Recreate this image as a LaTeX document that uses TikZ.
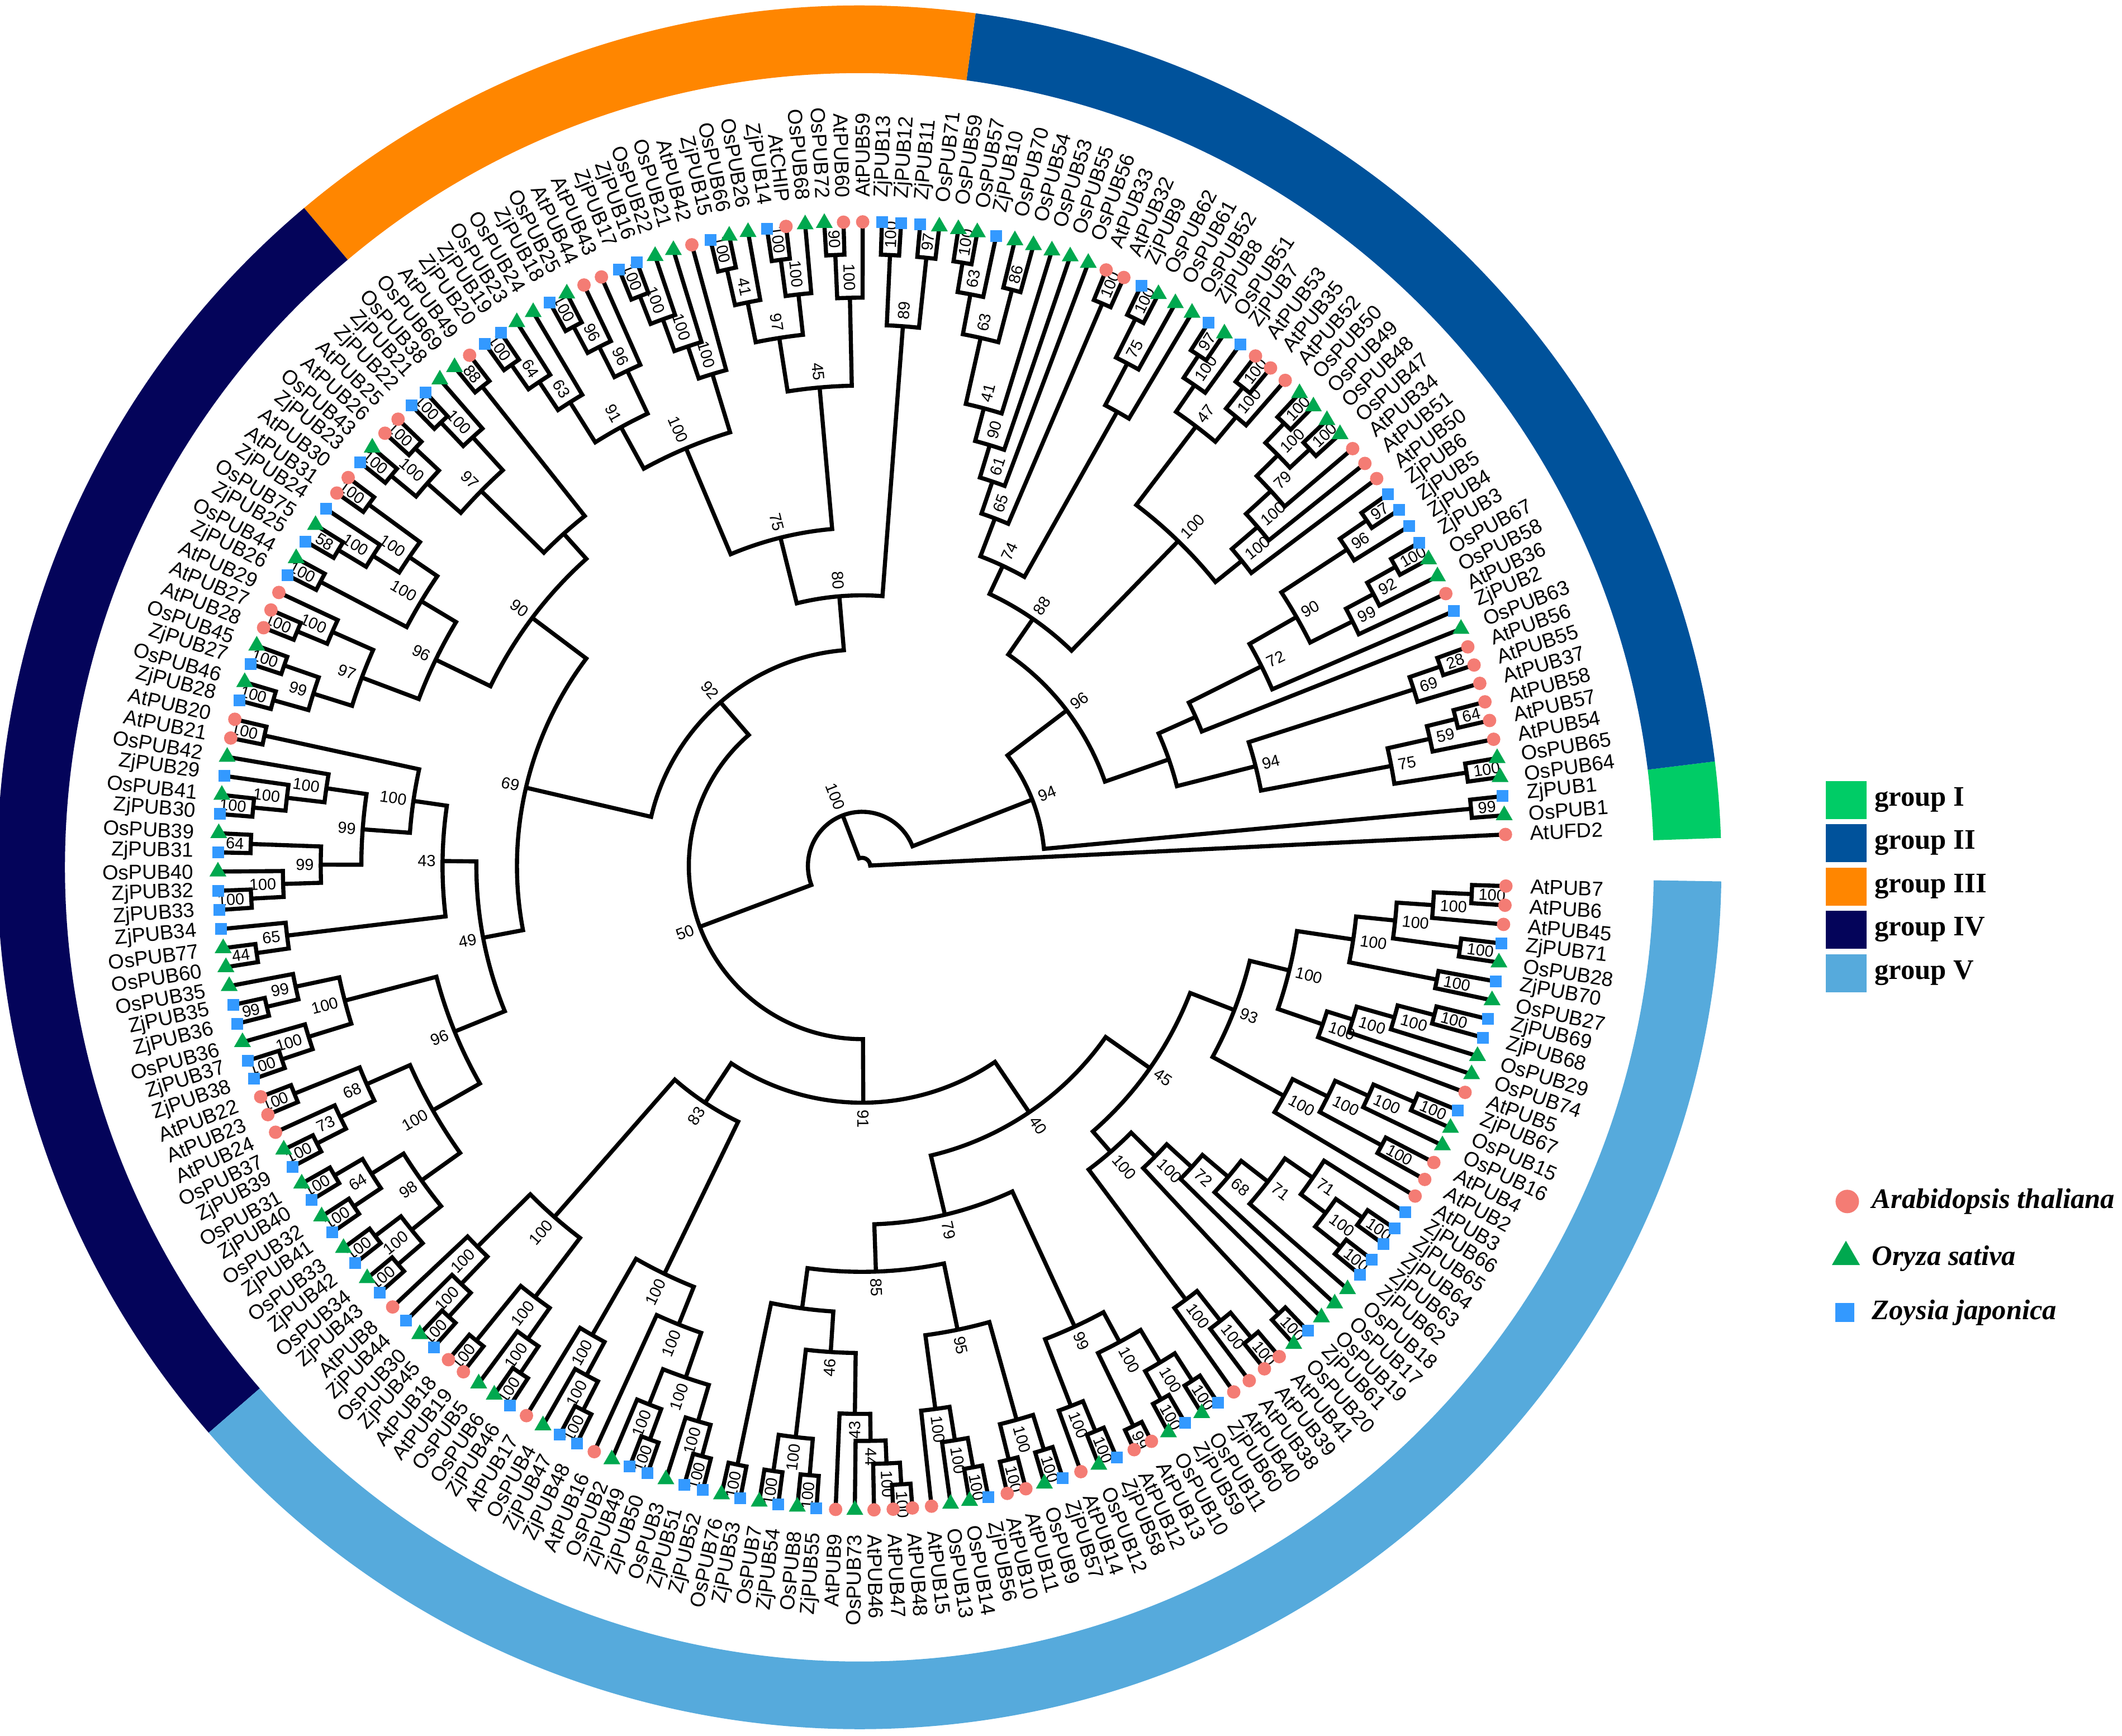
\documentclass[tikz,border=0pt]{standalone}
\usepackage{fontspec}
\setmainfont{Liberation Sans}
\newfontfamily\legfont{Liberation Serif}
\usetikzlibrary{shapes.geometric}
\definecolor{cAt}{HTML}{F47C74}
\definecolor{cOs}{HTML}{00A84F}
\definecolor{cZj}{HTML}{3399FF}
\definecolor{gI}{HTML}{00CC66}
\definecolor{gII}{HTML}{00529B}
\definecolor{gIII}{HTML}{FF8600}
\definecolor{gIV}{HTML}{04045A}
\definecolor{gV}{HTML}{56AADC}
\def\Astart{2.8}
\def\Astep{1.7087}
\def\Rleaf{476}
\def\Rlab{494}
\def\U{0.68901}
\def\Rin{587}
\def\Rout{637}
\newcommand\bsl[4]{%
  \pgfmathtruncatemacro\lft{and(#2>90,#2<270)}%
  \pgfmathsetmacro\rrb{#3+4}%
  \ifnum\lft=1
    \node[bs,anchor=east,rotate=#2+180] (#1) at (#2:\rrb) {#4};
  \else
    \node[bs,anchor=west,rotate=#2] (#1) at (#2:\rrb) {#4};
  \fi}
\newcommand\cl[5]{%
  \pgfmathsetmacro\tA{\csname a@#3\endcsname}%
  \pgfmathsetmacro\tB{\csname a@#4\endcsname}%
  \edef\rA{\csname r@#3\endcsname}%
  \edef\rB{\csname r@#4\endcsname}%
  \pgfmathsetmacro\tM{(\tA+\tB)/2}%
  \pgfmathsetmacro\rp{#2*\U}%
  \expandafter\xdef\csname a@#1\endcsname{\tM}%
  \expandafter\xdef\csname r@#1\endcsname{#2}%
  \draw[br] (\tA:\rA) -- (\tA:#2) arc[start angle=\tA, end angle=\tB, radius=\rp pt] -- (\tB:\rB);
  \coordinate (#1) at (\tM:#2);
  \ifx\relax#5\relax\else\bsl{B#1}{\tM}{#2}{#5}\fi}
\newcommand\ring[4]{%
  \pgfmathsetmacro\ri{\Rin*\U}\pgfmathsetmacro\ro{\Rout*\U}%
  \fill[#2] (#3:\Rin) arc[start angle=#3, end angle=#4, radius=\ri pt] -- (#4:\Rout) arc[start angle=#4, end angle=#3, radius=\ro pt] -- cycle;
  \coordinate (#1) at ({(#3+#4)/2}:\Rout);}
\def\leafdata{1/AtUFD2/c,2/OsPUB1/t,3/ZjPUB1/s,4/OsPUB64/t,5/OsPUB65/t,6/AtPUB54/c,7/AtPUB57/c,8/AtPUB58/c,9/AtPUB37/c,10/AtPUB55/c,11/AtPUB56/c,12/OsPUB63/t,13/ZjPUB2/s,14/AtPUB36/c,15/OsPUB58/t,16/OsPUB67/t,17/ZjPUB3/s,18/ZjPUB4/s,19/ZjPUB5/s,20/ZjPUB6/s,21/AtPUB50/c,22/AtPUB51/c,23/AtPUB34/c,24/OsPUB47/t,25/OsPUB48/t,26/OsPUB49/t,27/OsPUB50/t,28/AtPUB52/c,29/AtPUB35/c,30/AtPUB53/c,31/ZjPUB7/s,32/OsPUB51/t,33/ZjPUB8/s,34/OsPUB52/t,35/OsPUB61/t,36/OsPUB62/t,37/ZjPUB9/s,38/AtPUB32/c,39/AtPUB33/c,40/OsPUB56/t,41/OsPUB55/t,42/OsPUB53/t,43/OsPUB54/t,44/OsPUB70/t,45/ZjPUB10/s,46/OsPUB57/t,47/OsPUB59/t,48/OsPUB71/t,49/ZjPUB11/s,50/ZjPUB12/s,51/ZjPUB13/s,52/AtPUB59/c,53/AtPUB60/c,54/OsPUB72/t,55/OsPUB68/t,56/AtCHIP/c,57/ZjPUB14/s,58/OsPUB26/t,59/OsPUB66/t,60/ZjPUB15/s,61/AtPUB42/c,62/OsPUB21/t,63/OsPUB22/t,64/ZjPUB16/s,65/ZjPUB17/s,66/AtPUB43/c,67/AtPUB44/c,68/OsPUB25/t,69/ZjPUB18/s,70/OsPUB24/t,71/OsPUB23/t,72/ZjPUB19/s,73/ZjPUB20/s,74/AtPUB49/c,75/OsPUB69/t,76/OsPUB38/t,77/ZjPUB21/s,78/ZjPUB22/s,79/AtPUB25/c,80/AtPUB26/c,81/OsPUB43/t,82/ZjPUB23/s,83/AtPUB30/c,84/AtPUB31/c,85/ZjPUB24/s,86/OsPUB75/t,87/ZjPUB25/s,88/OsPUB44/t,89/ZjPUB26/s,90/AtPUB29/c,91/AtPUB27/c,92/AtPUB28/c,93/OsPUB45/t,94/ZjPUB27/s,95/OsPUB46/t,96/ZjPUB28/s,97/AtPUB20/c,98/AtPUB21/c,99/OsPUB42/t,100/ZjPUB29/s,101/OsPUB41/t,102/ZjPUB30/s,103/OsPUB39/t,104/ZjPUB31/s,105/OsPUB40/t,106/ZjPUB32/s,107/ZjPUB33/s,108/ZjPUB34/s,109/OsPUB77/t,110/OsPUB60/t,111/OsPUB35/t,112/ZjPUB35/s,113/ZjPUB36/s,114/OsPUB36/t,115/ZjPUB37/s,116/ZjPUB38/s,117/AtPUB22/c,118/AtPUB23/c,119/AtPUB24/c,120/OsPUB37/t,121/ZjPUB39/s,122/OsPUB31/t,123/ZjPUB40/s,124/OsPUB32/t,125/ZjPUB41/s,126/OsPUB33/t,127/ZjPUB42/s,128/OsPUB34/t,129/ZjPUB43/s,130/AtPUB8/c,131/ZjPUB44/s,132/OsPUB30/t,133/ZjPUB45/s,134/AtPUB18/c,135/AtPUB19/c,136/OsPUB5/t,137/OsPUB6/t,138/ZjPUB46/s,139/AtPUB17/c,140/OsPUB4/t,141/ZjPUB47/s,142/ZjPUB48/s,143/AtPUB16/c,144/OsPUB2/t,145/ZjPUB49/s,146/ZjPUB50/s,147/OsPUB3/t,148/ZjPUB51/s,149/ZjPUB52/s,150/OsPUB76/t,151/ZjPUB53/s,152/OsPUB7/t,153/ZjPUB54/s,154/OsPUB8/t,155/ZjPUB55/s,156/AtPUB9/c,157/OsPUB73/t,158/AtPUB46/c,159/AtPUB47/c,160/AtPUB48/c,161/AtPUB15/c,162/OsPUB13/t,163/OsPUB14/t,164/ZjPUB56/s,165/AtPUB10/c,166/AtPUB11/c,167/OsPUB9/t,168/ZjPUB57/s,169/AtPUB14/c,170/OsPUB12/t,171/ZjPUB58/s,172/AtPUB12/c,173/AtPUB13/c,174/OsPUB10/t,175/ZjPUB59/s,176/OsPUB11/t,177/ZjPUB60/s,178/AtPUB40/c,179/AtPUB38/c,180/AtPUB39/c,181/AtPUB41/c,182/OsPUB20/t,183/ZjPUB61/s,184/OsPUB19/t,185/OsPUB17/t,186/OsPUB18/t,187/ZjPUB62/s,188/ZjPUB63/s,189/ZjPUB64/s,190/ZjPUB65/s,191/ZjPUB66/s,192/AtPUB3/c,193/AtPUB2/c,194/AtPUB4/c,195/OsPUB16/t,196/OsPUB15/t,197/ZjPUB67/s,198/AtPUB5/c,199/OsPUB74/t,200/OsPUB29/t,201/ZjPUB68/s,202/ZjPUB69/s,203/OsPUB27/t,204/ZjPUB70/s,205/OsPUB28/t,206/ZjPUB71/s,207/AtPUB45/c,208/AtPUB6/c,209/AtPUB7/c}
\begin{document}
\begin{tikzpicture}[x=0.024216cm,y=0.024216cm,
  br/.style={line width=2.1pt, line join=miter},
  bs/.style={font=\fontsize{8.2}{9}\selectfont, inner sep=0.6pt},
  lbl/.style={font=\fontsize{10.4}{11}\selectfont, inner sep=0pt},
  mkc/.style={circle, fill=cAt, inner sep=0pt, minimum size=0.24cm},
  mkt/.style={regular polygon, regular polygon sides=3, fill=cOs, inner sep=0pt, minimum size=0.35cm},
  mks/.style={rectangle, fill=cZj, inner sep=0pt, minimum size=0.21cm},
  sw/.style={rectangle, inner sep=0pt, minimum width=0.73cm, minimum height=0.68cm},
  lg/.style={font=\legfont\fontsize{14.4}{16}\selectfont\bfseries, anchor=west, inner sep=0pt}]
\useasboundingbox (-637,-643) rectangle (931,640);
% ---- leaf angles
\foreach \i/\nm/\tp in \leafdata {%
  \pgfmathsetmacro\ang{\Astart+(\i-1)*\Astep}%
  \expandafter\xdef\csname a@L\i\endcsname{\ang}%
  \expandafter\xdef\csname r@L\i\endcsname{\Rleaf}}
% ---- group rings
\begin{scope}[shift={(-2,-1)}]
\ring{RI}{gI}{1.95}{7.06}
\ring{RII}{gII}{7.06}{82.25}
\ring{RIII}{gIII}{82.25}{130.1}
\ring{RIV}{gIV}{130.1}{221.0}
\ring{RV}{gV}{221.0}{359.06}
\end{scope}
% ---- group I / II
\cl{g1}{452}{L2}{L3}{99}
\cl{a1}{452}{L4}{L5}{100}
\cl{a2}{452}{L7}{L8}{64}
\cl{a3}{430}{L6}{a2}{59}
\cl{a4}{398}{a1}{a3}{75}
\cl{a5}{452}{L10}{L11}{28}
\cl{a6}{428}{L9}{a5}{69}
\cl{a7}{300}{a4}{a6}{94}
\cl{a8}{452}{L16}{L17}{100}
\cl{a9}{428}{L15}{a8}{92}
\cl{a10}{405}{L14}{a9}{99}
\cl{a11}{452}{L19}{L20}{97}
\cl{a12}{428}{L18}{a11}{96}
\cl{a13}{370}{a10}{a12}{90}
\cl{a14}{330}{L13}{a13}{72}
\cl{a15}{270}{L12}{a14}{}
\cl{a16}{240}{a7}{a15}{}
\cl{b1}{452}{L26}{L27}{100}
\cl{b2}{452}{L24}{L25}{100}
\cl{b3}{432}{b2}{b1}{100}
\cl{b4}{410}{L23}{b3}{79}
\cl{b5}{385}{L22}{b4}{100}
\cl{b6}{360}{L21}{b5}{100}
\cl{b7}{452}{L29}{L30}{100}
\cl{b8}{432}{L28}{b7}{100}
\cl{b9}{452}{L32}{L33}{97}
\cl{b10}{432}{L31}{b9}{100}
\cl{b11}{408}{b8}{b10}{47}
\cl{b12}{335}{b6}{b11}{100}
\cl{c1}{452}{L36}{L37}{100}
\cl{c2}{420}{L35}{c1}{75}
\cl{c3}{385}{L34}{c2}{}
\cl{c4}{452}{L38}{L39}{100}
\cl{d1}{452}{L46}{L47}{100}
\cl{d2}{430}{L45}{d1}{63}
\cl{d3}{440}{L43}{L44}{86}
\cl{d4}{400}{d3}{d2}{63}
\cl{d5}{350}{L42}{d4}{41}
\cl{d6}{325}{L41}{d5}{90}
\cl{d7}{300}{L40}{d6}{61}
\cl{d8}{275}{c4}{d7}{65}
\cl{d9}{245}{c3}{d8}{74}
\cl{d10}{222}{b12}{d9}{88}
\cl{d11}{190}{a16}{d10}{96}
\cl{G12}{135}{g1}{d11}{94}
% ---- group III
\cl{f1}{452}{L48}{L49}{97}
\cl{f2}{452}{L50}{L51}{100}
\cl{f3}{400}{f1}{f2}{89}
\cl{f4}{452}{L53}{L54}{90}
\cl{f5}{420}{L52}{f4}{100}
\cl{f6}{452}{L56}{L57}{100}
\cl{f7}{425}{L55}{f6}{100}
\cl{f9}{452}{L59}{L60}{100}
\cl{f10}{425}{L58}{f9}{41}
\cl{f11}{395}{f7}{f10}{97}
\cl{f12}{355}{f5}{f11}{45}
\cl{f13}{452}{L64}{L65}{100}
\cl{f14}{430}{L63}{f13}{100}
\cl{f15}{405}{L62}{f14}{100}
\cl{f16}{380}{L61}{f15}{100}
\cl{f17}{452}{L68}{L69}{100}
\cl{f18}{430}{L67}{f17}{96}
\cl{f19}{405}{L66}{f18}{96}
\cl{f20}{452}{L72}{L73}{100}
\cl{f21}{430}{L71}{f20}{64}
\cl{f22}{405}{L70}{f21}{63}
\cl{f23}{370}{f19}{f22}{91}
\cl{f24}{335}{f16}{f23}{100}
\cl{f25}{250}{f12}{f24}{75}
\cl{f26}{200}{f3}{f25}{80}
% ---- group IV
\cl{g88}{452}{L74}{L75}{88}
\cl{h1}{452}{L77}{L78}{100}
\cl{h2}{428}{L76}{h1}{100}
\cl{h3}{452}{L79}{L80}{100}
\cl{h4}{452}{L81}{L82}{100}
\cl{h5}{428}{h3}{h4}{100}
\cl{h6}{395}{h2}{h5}{97}
\cl{h7}{452}{L83}{L84}{100}
\cl{h8}{452}{L86}{L87}{58}
\cl{h9}{428}{L85}{h8}{100}
\cl{h10}{405}{h7}{h9}{100}
\cl{h11}{452}{L88}{L89}{100}
\cl{h12}{380}{h10}{h11}{100}
\cl{h13}{452}{L91}{L92}{100}
\cl{h14}{428}{L90}{h13}{100}
\cl{h15}{452}{L93}{L94}{100}
\cl{h16}{452}{L95}{L96}{100}
\cl{h17}{425}{h15}{h16}{99}
\cl{h18}{395}{h14}{h17}{97}
\cl{h19}{350}{h12}{h18}{96}
\cl{h6b}{330}{g88}{h6}{}
\cl{h19b}{305}{h6b}{h19}{90}
\cl{h20}{452}{L97}{L98}{100}
\cl{h21}{452}{L101}{L102}{100}
\cl{h22}{428}{L100}{h21}{100}
\cl{h23}{400}{L99}{h22}{100}
\cl{h24}{452}{L103}{L104}{64}
\cl{h25}{452}{L106}{L107}{100}
\cl{h26}{428}{L105}{h25}{100}
\cl{h27}{400}{h24}{h26}{99}
\cl{h28}{370}{h23}{h27}{99}
\cl{h29}{335}{h20}{h28}{100}
\cl{h30}{452}{L109}{L110}{44}
\cl{h31}{428}{L108}{h30}{65}
\cl{h37}{310}{h29}{h31}{43}
\cl{h32}{452}{L112}{L113}{99}
\cl{h33}{428}{L111}{h32}{99}
\cl{h34}{452}{L115}{L116}{100}
\cl{h35}{428}{L114}{h34}{100}
\cl{h36}{395}{h33}{h35}{100}
\cl{h39}{452}{L117}{L118}{100}
\cl{h40}{452}{L120}{L121}{100}
\cl{h41}{428}{L119}{h40}{73}
\cl{h42}{400}{h39}{h41}{68}
\cl{h43}{452}{L122}{L123}{100}
\cl{h44}{452}{L124}{L125}{100}
\cl{h45}{428}{h43}{h44}{64}
\cl{h46}{452}{L126}{L127}{100}
\cl{h47}{452}{L128}{L129}{100}
\cl{h48}{428}{h46}{h47}{100}
\cl{h49}{400}{h45}{h48}{98}
\cl{h50}{365}{h42}{h49}{100}
\cl{h51}{325}{h36}{h50}{96}
\cl{h52}{285}{h37}{h51}{49}
\cl{h53}{255}{h19b}{h52}{69}
\cl{N92}{160}{f26}{h53}{92}
% ---- group V
\cl{k1}{452}{L132}{L133}{100}
\cl{k2}{428}{L131}{k1}{100}
\cl{k3}{400}{L130}{k2}{100}
\cl{k4}{452}{L134}{L135}{100}
\cl{k5}{452}{L137}{L138}{100}
\cl{k6}{428}{L136}{k5}{100}
\cl{k7}{400}{k4}{k6}{100}
\cl{k8}{452}{L141}{L142}{100}
\cl{k9}{428}{L140}{k8}{100}
\cl{k10}{400}{L139}{k9}{100}
\cl{k11}{452}{L145}{L146}{100}
\cl{k12}{428}{L144}{k11}{100}
\cl{k13}{452}{L148}{L149}{100}
\cl{k14}{428}{L147}{k13}{100}
\cl{k15}{400}{k12}{k14}{100}
\cl{k16}{365}{L143}{k15}{100}
\cl{k17}{452}{L150}{L151}{100}
\cl{k18}{452}{L152}{L153}{100}
\cl{k19}{452}{L154}{L155}{100}
\cl{k20}{425}{k18}{k19}{100}
\cl{k26}{458}{L159}{L160}{100}
\cl{k25}{442}{L158}{k26}{100}
\cl{k24}{425}{L157}{k25}{44}
\cl{k23}{405}{L156}{k24}{43}
\cl{k22}{360}{k20}{k23}{46}
\cl{k27}{452}{L163}{L164}{100}
\cl{k28}{430}{L162}{k27}{100}
\cl{k29}{405}{L161}{k28}{100}
\cl{k30}{452}{L165}{L166}{100}
\cl{k31}{452}{L167}{L168}{100}
\cl{k32}{425}{k30}{k31}{100}
\cl{k33}{452}{L170}{L171}{100}
\cl{k34}{428}{L169}{k33}{100}
\cl{k35}{460}{L172}{L173}{99}
\cl{k36}{452}{L174}{L175}{100}
\cl{k37}{452}{L176}{L177}{100}
\cl{k38}{428}{k36}{k37}{100}
\cl{k39}{400}{k35}{k38}{100}
\cl{k40}{375}{k34}{k39}{99}
\cl{k43}{452}{L180}{L181}{100}
\cl{k44}{428}{L179}{k43}{100}
\cl{k45}{400}{L178}{k44}{100}
\cl{k46}{452}{L182}{L183}{100}
\cl{k47}{452}{L187}{L188}{100}
\cl{k48}{452}{L189}{L190}{100}
\cl{k49}{428}{k47}{k48}{100}
\cl{k50}{405}{k49}{L191}{71}
\cl{k51}{380}{L186}{k50}{71}
\cl{k52}{355}{L185}{k51}{68}
\cl{k53}{330}{L184}{k52}{72}
\cl{k54}{305}{k46}{k53}{100}
\cl{k55}{280}{k45}{k54}{100}
\cl{k56}{436}{L193}{L194}{100}
\cl{k57}{444}{L196}{L197}{100}
\cl{k58}{411}{L195}{k57}{100}
\cl{k59}{384}{k56}{k58}{100}
\cl{k60}{355}{L192}{k59}{100}
\cl{k61}{437}{L201}{L202}{100}
\cl{k62}{409}{L200}{k61}{100}
\cl{k63}{380}{L199}{k62}{100}
\cl{k64}{360}{L198}{k63}{100}
\cl{k65}{451}{L208}{L209}{100}
\cl{k66}{423}{L207}{k65}{100}
\cl{k67}{446}{L205}{L206}{100}
\cl{k68}{396}{k67}{k66}{100}
\cl{k69}{433}{L203}{L204}{100}
\cl{k70}{367}{k69}{k68}{100}
\cl{k71}{325}{k64}{k70}{100}
\cl{k72}{295}{k60}{k71}{93}
\cl{k74}{345}{k3}{k7}{100}
\cl{k75}{335}{k10}{k16}{100}
\cl{k76}{210}{k74}{k75}{83}
\cl{k73}{330}{k17}{k22}{}
\cl{k84}{350}{k29}{k32}{95}
\cl{k85}{300}{k73}{k84}{85}
\cl{k87}{265}{k85}{k40}{79}
\cl{k80}{260}{k55}{k72}{45}
\cl{k82}{220}{k87}{k80}{40}
\cl{k77}{175}{k76}{k82}{91}
% ---- deep
\cl{P}{128}{N92}{k77}{50}
\cl{Q}{40}{G12}{P}{100}
\cl{R}{6}{L1}{Q}{}
% ---- markers and labels
\foreach \i/\nm/\tp in \leafdata {%
  \pgfmathsetmacro\ang{\Astart+(\i-1)*\Astep}%
  \node[mk\tp] (M\i) at (\ang:\Rleaf) {};
  \pgfmathtruncatemacro\lft{and(\ang>90,\ang<270)}%
  \ifnum\lft=1
    \node[lbl,anchor=east,rotate=\ang+180] (T\i) at (\ang:\Rlab) {\nm};
  \else
    \node[lbl,anchor=west,rotate=\ang] (T\i) at (\ang:\Rlab) {\nm};
  \fi}
% ---- legends
\node[sw,fill=gI,anchor=north west] (s1) at (712,63) {};
\node[sw,fill=gII,anchor=north west] (s2) at (712,31) {};
\node[sw,fill=gIII,anchor=north west] (s3) at (712,-1) {};
\node[sw,fill=gIV,anchor=north west] (s4) at (712,-33) {};
\node[sw,fill=gV,anchor=north west] (s5) at (712,-65) {};
\node[lg] (t1) at (748,49) {group I};
\node[lg] (t2) at (748,17) {group II};
\node[lg] (t3) at (748,-15) {group III};
\node[lg] (t4) at (748,-47) {group IV};
\node[lg] (t5) at (748,-79) {group V};
\node[circle,fill=cAt,inner sep=0pt,minimum size=0.42cm] (p1) at (728,-248) {};
\node[regular polygon,regular polygon sides=3,fill=cOs,inner sep=0pt,minimum size=0.58cm] (p2) at (727,-289) {};
\node[rectangle,fill=cZj,inner sep=0pt,minimum size=0.34cm] (p3) at (726,-330) {};
\node[lg,font=\legfont\fontsize{14.4}{16}\selectfont\bfseries\itshape] (q1) at (746,-248) {Arabidopsis thaliana};
\node[lg,font=\legfont\fontsize{14.4}{16}\selectfont\bfseries\itshape] (q2) at (746,-290) {Oryza sativa};
\node[lg,font=\legfont\fontsize{14.4}{16}\selectfont\bfseries\itshape] (q3) at (746,-330) {Zoysia japonica};
\end{tikzpicture}
\end{document}
